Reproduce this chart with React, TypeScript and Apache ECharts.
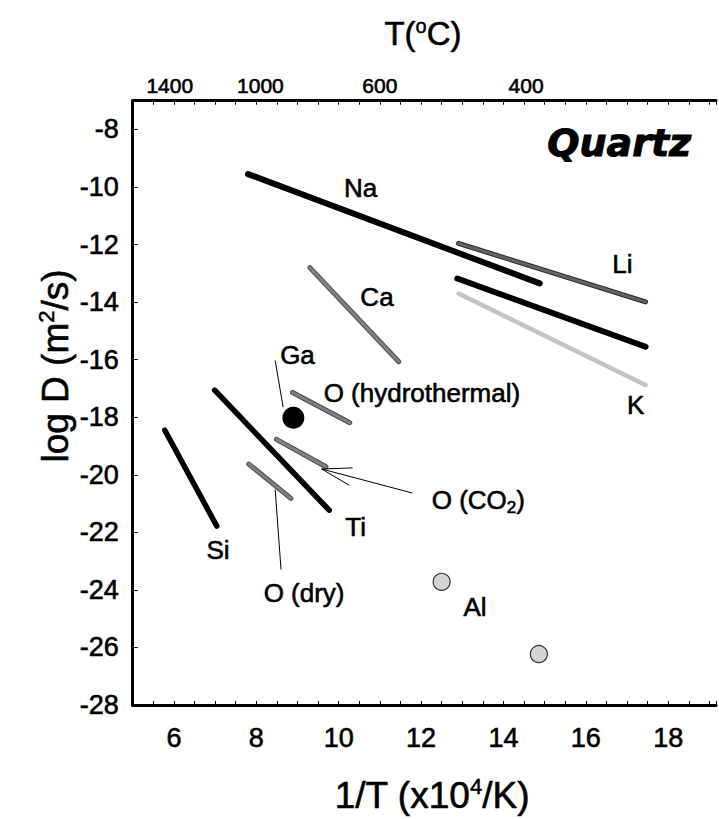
import React, { useEffect, useRef } from "react";
import * as echarts from "echarts";

// ---- data ----
const xTickLabels = [6, 8, 10, 12, 14, 16, 18];
const yTickLabels = [-28, -26, -24, -22, -20, -18, -16, -14, -12, -10, -8];
const tempLabels = ["1400", "1000", "600", "400"];
const tempLabelPos = [5.9, 8.1, 11.0, 14.55];

const naSeg = [[7.8, -9.55], [14.88, -13.35]];
const naLowSeg = [[12.88, -13.18], [17.45, -15.55]];
const liSeg = [[12.91, -11.96], [17.45, -13.99]];
const kSeg = [[12.91, -13.7], [17.45, -16.88]];
const caSeg = [[9.3, -12.8], [11.46, -16.07]];
const oHydroSeg = [[8.88, -17.14], [10.27, -18.19]];
const tiSeg = [[6.99, -17.06], [9.77, -21.23]];
const siSeg = [[5.78, -18.45], [7.04, -21.78]];
const oCO2Seg = [[8.49, -18.77], [9.69, -19.72]];
const oDrySeg = [[7.82, -19.63], [8.84, -20.82]];
const gaPoint = [[8.9, -18.02]];
const alPoints = [[12.5, -23.72], [14.86, -26.23]];

const labelNames = ["Na", "Ca", "O (hydrothermal)", "Li", "K", "Ga", "Ti", "Si", "O (dry)", "Al", "O (CO{sub|2})"];
const labelPos = [
  [10.53, -10.05], [10.93, -13.82], [12.02, -17.17], [16.89, -12.66], [17.21, -17.58],
  [9.0, -15.84], [10.41, -21.81], [7.07, -22.62], [9.16, -24.12], [13.31, -24.59], [13.39, -20.88],
];
const quartzPos = [16.81, -8.47];

const gaLeader = [[8.46, -16.04], [8.65, -17.64]];
const oDryLeader = [[8.46, -20.53], [8.6, -23.28]];
const oCO2Leader = [[11.78, -20.63], [9.59, -19.8]];
const oCO2Head = [[10.33, -19.76], [9.59, -19.8], [10.25, -20.36]];

const X_MIN = 5;
const X_MAX = 19.16;
const FONT = "'Liberation Sans', Arial, Helvetica, sans-serif";
const HEAVY = { textBorderColor: "#000", textBorderWidth: 0.6 };

function seg(data: number[][], color: string, width: number, z = 2) {
  return {
    type: "line",
    data,
    symbol: "none",
    silent: true,
    z,
    lineStyle: { color, width, cap: "round", opacity: 1 },
  };
}

function outlinedSeg(data: number[][], outer: string, inner: string, w: number) {
  return [seg(data, outer, w, 2), seg(data, inner, w - 2, 3)];
}

export default function App() {
  const ref = useRef<HTMLDivElement>(null);
  useEffect(() => {
    if (!ref.current) return;
    const chart = echarts.init(ref.current, null, { renderer: "svg" });
    const axisLine = { show: true, onZero: false, lineStyle: { color: "#000", width: 3 } };
    const option: any = {
      animation: false,
      backgroundColor: "#fff",
      grid: { left: 132.7, top: 100.7, right: 0, bottom: 114, containLabel: false },
      xAxis: [
        {
          type: "value",
          min: X_MIN,
          max: X_MAX,
          interval: 0.5,
          position: "bottom",
          axisLine,
          axisTick: { show: true, inside: true, length: 4, lineStyle: { color: "#000", width: 1 } },
          splitLine: { show: false },
          axisLabel: {
            fontSize: 27,
            color: "#000",
            fontFamily: FONT,
            margin: 19,
            ...HEAVY,
            formatter: (v: number) => (xTickLabels.includes(v) ? String(v) : ""),
          },
        },
        {
          type: "value",
          min: X_MIN,
          max: X_MAX,
          interval: 0.5,
          position: "top",
          axisLine,
          axisTick: { show: true, inside: true, length: 4, lineStyle: { color: "#000", width: 1 } },
          splitLine: { show: false },
          axisLabel: { show: false },
        },
      ],
      yAxis: {
        type: "value",
        min: -28,
        max: -7,
        interval: 2,
        axisLine,
        axisTick: { show: true, inside: true, length: 5, lineStyle: { color: "#000", width: 1 } },
        splitLine: { show: false },
        axisLabel: {
          fontSize: 27,
          color: "#000",
          fontFamily: FONT,
          margin: 14,
          ...HEAVY,
          formatter: (v: number) => (yTickLabels.includes(v) ? String(v) : ""),
        },
      },
      series: [
        seg(naSeg, "#000", 6),
        seg(naLowSeg, "#000", 6),
        ...outlinedSeg(liSeg, "#2c2e31", "#5f6267", 5),
        seg(kSeg, "#c2c3c5", 4.5),
        ...outlinedSeg(caSeg, "#4a4c50", "#7d8084", 5),
        ...outlinedSeg(oHydroSeg, "#4a4c50", "#7d8084", 5),
        seg(tiSeg, "#000", 5.5),
        seg(siSeg, "#000", 5.5),
        ...outlinedSeg(oCO2Seg, "#4a4c50", "#7d8084", 5),
        ...outlinedSeg(oDrySeg, "#4a4c50", "#7d8084", 5),
        seg(gaLeader, "#000", 1, 4),
        seg(oDryLeader, "#000", 1, 4),
        seg(oCO2Leader, "#000", 1, 4),
        seg(oCO2Head, "#000", 1, 4),
        {
          type: "scatter",
          data: gaPoint,
          symbol: "circle",
          symbolSize: 22,
          itemStyle: { color: "#000", opacity: 1 },
          z: 5,
          silent: true,
        },
        {
          type: "scatter",
          data: alPoints,
          symbol: "circle",
          symbolSize: 17,
          itemStyle: { color: "#d4d4d4", borderColor: "#333", borderWidth: 1.2, opacity: 1 },
          z: 5,
          silent: true,
        },
        {
          type: "scatter",
          data: labelNames.map((n, i) => ({ name: n, value: labelPos[i] })),
          symbolSize: 0,
          silent: true,
          z: 6,
          itemStyle: { opacity: 1 },
          label: {
            show: true,
            position: "inside",
            formatter: "{b}",
            fontSize: 26,
            color: "#000",
            fontFamily: FONT,
            ...HEAVY,
            rich: {
              sub: { fontSize: 17, fontFamily: FONT, color: "#000", ...HEAVY, padding: [14, 0, 0, 0] },
            },
          },
        },
        {
          type: "scatter",
          data: [{ name: "Quartz", value: quartzPos }],
          symbolSize: 0,
          silent: true,
          z: 6,
          itemStyle: { opacity: 1 },
          label: {
            show: true,
            position: "inside",
            formatter: "{b}",
            fontSize: 38,
            fontWeight: "bold",
            fontStyle: "italic",
            color: "#000",
            fontFamily: "'DejaVu Sans', sans-serif",
            textBorderColor: "#000",
            textBorderWidth: 1,
          },
        },
        {
          type: "scatter",
          xAxisIndex: 1,
          data: tempLabels.map((t, i) => ({ name: t, value: [tempLabelPos[i], -7] })),
          symbolSize: 0,
          silent: true,
          clip: false,
          z: 6,
          itemStyle: { opacity: 1 },
          label: {
            show: true,
            position: "top",
            distance: 5,
            formatter: "{b}",
            fontSize: 21,
            color: "#000",
            fontFamily: FONT,
            ...HEAVY,
          },
        },
      ],
      graphic: [
        {
          type: "text",
          x: 423,
          y: 33,
          style: {
            text: "{a|T(}{sup|o}{a|C)}",
            align: "center",
            verticalAlign: "middle",
            rich: {
              a: { fontSize: 33, fontFamily: FONT, fill: "#000", stroke: "#000", lineWidth: 0.6 },
              sup: { fontSize: 20, fontFamily: FONT, fill: "#000", stroke: "#000", lineWidth: 0.5, padding: [0, 0, 15, 0] },
            },
          },
        },
        {
          type: "text",
          x: 432,
          y: 795,
          style: {
            text: "{a|1/T (x10}{sup|4}{a|/K)}",
            align: "center",
            verticalAlign: "middle",
            rich: {
              a: { fontSize: 37, fontFamily: FONT, fill: "#000", stroke: "#000", lineWidth: 0.6 },
              sup: { fontSize: 22, fontFamily: FONT, fill: "#000", stroke: "#000", lineWidth: 0.5, padding: [0, 0, 18, 0] },
            },
          },
        },
        {
          type: "text",
          x: 55,
          y: 366,
          rotation: Math.PI / 2,
          style: {
            text: "{a|log D (m}{sup|2}{a|/s)}",
            align: "center",
            verticalAlign: "middle",
            rich: {
              a: { fontSize: 37, fontFamily: FONT, fill: "#000", stroke: "#000", lineWidth: 0.6 },
              sup: { fontSize: 22, fontFamily: FONT, fill: "#000", stroke: "#000", lineWidth: 0.5, padding: [0, 0, 18, 0] },
            },
          },
        },
      ],
    };
    chart.setOption(option);
    return () => chart.dispose();
  }, []);
  return (
    <div
      ref={ref}
      style={{ position: "fixed", left: 0, top: 0, width: 719, height: 819, background: "#fff" }}
    />
  );
}
